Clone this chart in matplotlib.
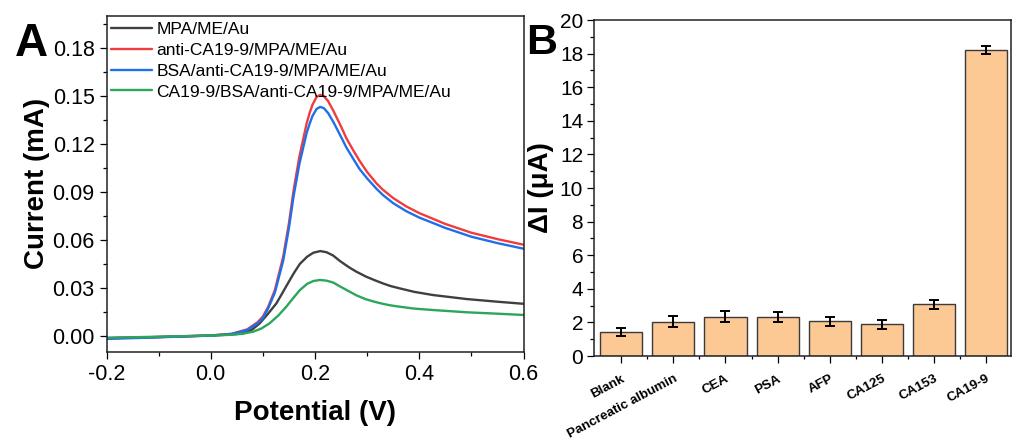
import matplotlib
matplotlib.use("Agg")
import matplotlib.pyplot as plt
from matplotlib.ticker import MultipleLocator, FixedLocator

plt.rcParams['font.family'] = ['Liberation Sans', 'DejaVu Sans']
plt.rcParams['mathtext.default'] = 'regular'

# ---- Panel A: DPV curves (potential in V, current in mA) ----
red_v = [-0.2, -0.1, 0.0, 0.04, 0.07, 0.09, 0.10, 0.11, 0.123, 0.139, 0.150,
         0.159, 0.170, 0.184, 0.190, 0.195, 0.203, 0.210, 0.217, 0.225, 0.235,
         0.25, 0.26, 0.273, 0.285, 0.30, 0.318, 0.33, 0.35, 0.375, 0.40, 0.45,
         0.50, 0.55, 0.60]
red_i = [-0.0015, -0.0008, 0.0002, 0.0012, 0.0040, 0.0085, 0.0120, 0.0180,
         0.0286, 0.0495, 0.0704, 0.0912, 0.1121, 0.1330, 0.1398, 0.1445,
         0.1495, 0.1508, 0.1500, 0.1470, 0.1410, 0.1310, 0.1238, 0.1163,
         0.1098, 0.1025, 0.0954, 0.0915, 0.0862, 0.0810, 0.0768, 0.0700,
         0.0645, 0.0605, 0.0570]

blue_v = red_v
blue_i = [-0.0020, -0.0010, 0.0001, 0.0011, 0.0036, 0.0078, 0.0110, 0.0170,
          0.0270, 0.0470, 0.0675, 0.0875, 0.1075, 0.1270, 0.1330, 0.1375,
          0.1420, 0.1433, 0.1425, 0.1395, 0.1340, 0.1245, 0.1180, 0.1110,
          0.1046, 0.0985, 0.0920, 0.0882, 0.0830, 0.0780, 0.0740, 0.0675,
          0.0620, 0.0580, 0.0545]

black_v = [-0.2, -0.1, 0.0, 0.04, 0.062, 0.08, 0.094, 0.11, 0.126, 0.137,
           0.148, 0.160, 0.171, 0.185, 0.197, 0.210, 0.222, 0.235, 0.247,
           0.257, 0.267, 0.280, 0.298, 0.315, 0.330, 0.345, 0.362, 0.390,
           0.426, 0.490, 0.550, 0.600]
black_i = [-0.0015, -0.0008, 0.0001, 0.0008, 0.0015, 0.0040, 0.0078, 0.0138,
           0.0203, 0.0265, 0.0328, 0.0395, 0.0450, 0.0495, 0.0520, 0.0530,
           0.0523, 0.0502, 0.0470, 0.0447, 0.0425, 0.0400, 0.0370, 0.0347,
           0.0328, 0.0311, 0.0297, 0.0275, 0.0255, 0.0230, 0.0213, 0.0200]

green_v = [-0.2, -0.1, 0.0, 0.04, 0.06, 0.081, 0.097, 0.113, 0.13, 0.145,
           0.158, 0.171, 0.185, 0.197, 0.210, 0.222, 0.235, 0.25, 0.267,
           0.280, 0.298, 0.315, 0.330, 0.345, 0.362, 0.390, 0.426, 0.490,
           0.550, 0.600]
green_i = [-0.0013, -0.0006, 0.0001, 0.0006, 0.0012, 0.0025, 0.0045, 0.0078,
           0.0128, 0.0182, 0.0235, 0.0286, 0.0325, 0.0343, 0.0349, 0.0345,
           0.0333, 0.0305, 0.0275, 0.0252, 0.0228, 0.0212, 0.0200, 0.0190,
           0.0182, 0.0170, 0.0161, 0.0147, 0.0138, 0.0130]

curve_labels = ["MPA/ME/Au", "anti-CA19-9/MPA/ME/Au",
                "BSA/anti-CA19-9/MPA/ME/Au", "CA19-9/BSA/anti-CA19-9/MPA/ME/Au"]
curve_colors = ["#404040", "#f03c3c", "#1f6fea", "#2ca65a"]

# ---- Panel B: selectivity bars (ΔI in µA) ----
categories = ["Blank", "Pancreatic albumin", "CEA", "PSA", "AFP",
              "CA125", "CA153", "CA19-9"]
delta_i = [1.41, 2.04, 2.33, 2.33, 2.06, 1.88, 3.07, 18.21]
delta_err = [0.24, 0.33, 0.33, 0.28, 0.27, 0.25, 0.25, 0.24]

fig = plt.figure(figsize=(10.16, 4.43), dpi=100)
W, H = 1016, 443

def frac_axes(l, t, r, b):
    return fig.add_axes([l / W, 1 - b / H, (r - l) / W, (b - t) / H])

axA = frac_axes(106.5, 15.7, 523.5, 351.7)
axB = frac_axes(594.3, 20.0, 1011.0, 356.0)

for ax in (axA, axB):
    for s in ax.spines.values():
        s.set_linewidth(1.1)
        s.set_color("#222222")

# Panel A
series = [(black_v, black_i), (red_v, red_i), (blue_v, blue_i), (green_v, green_i)]
for (v, i), lab, col in zip(series, curve_labels, curve_colors):
    axA.plot(v, i, color=col, lw=1.7, label=lab, solid_capstyle='round',
             solid_joinstyle='round')

axA.set_xlim(-0.2, 0.6)
axA.set_ylim(-0.010, 0.2004)
axA.xaxis.set_major_locator(FixedLocator([-0.2, 0.0, 0.2, 0.4, 0.6]))
axA.xaxis.set_minor_locator(MultipleLocator(0.1))
axA.yaxis.set_major_locator(FixedLocator([0.0, 0.03, 0.06, 0.09, 0.12, 0.15, 0.18]))
axA.yaxis.set_minor_locator(MultipleLocator(0.015))
axA.set_xticklabels(["-0.2", "0.0", "0.2", "0.4", "0.6"])
axA.set_yticklabels(["0.00", "0.03", "0.06", "0.09", "0.12", "0.15", "0.18"])
axA.tick_params(which='major', direction='out', length=5, width=0.9,
                labelsize=15.5, pad=3.5)
axA.tick_params(which='minor', direction='out', length=3, width=0.9)
axA.set_xlabel("Potential (V)", fontsize=20, fontweight='bold', labelpad=11)
axA.set_ylabel("Current (mA)", fontsize=20, fontweight='bold', labelpad=2)

axA.legend(loc='upper left', bbox_to_anchor=(0.011, 0.982), frameon=False,
           fontsize=12.5, handlelength=2.35, handletextpad=0.25,
           labelspacing=0.33, borderpad=0.0, borderaxespad=0.0)

# Panel B
xpos = list(range(len(categories)))
axB.bar(xpos, delta_i, width=0.81, color="#fcc893", edgecolor="#3a3a3a",
        linewidth=1.0, zorder=2)
axB.errorbar(xpos, delta_i, yerr=delta_err, fmt='none', ecolor='black',
             elinewidth=1.4, capsize=3.5, capthick=1.4, zorder=3)
axB.set_xlim(-0.516, 7.476)
axB.set_ylim(0, 20)
axB.yaxis.set_major_locator(MultipleLocator(2))
axB.yaxis.set_minor_locator(MultipleLocator(1))
axB.set_xticks(xpos)
axB.set_xticks([p + 0.5 for p in xpos[:-1]], minor=True)
axB.set_xticklabels(categories, rotation=28, ha='right', rotation_mode='anchor',
                    fontsize=9.6, fontweight='bold')
axB.tick_params(axis='y', which='major', direction='out', length=5, width=0.9,
                labelsize=15, pad=3)
axB.tick_params(axis='y', which='minor', direction='out', length=3, width=0.9)
axB.tick_params(axis='x', which='major', direction='out', length=5, width=0.9,
                pad=7)
axB.tick_params(axis='x', which='minor', direction='out', length=2.5, width=0.9)
axB.set_ylabel("ΔI (μA)", fontsize=20, fontweight='bold', labelpad=4)

# Panel letters
fig.text(15 / W, 1 - 56 / H, "A", fontsize=33, fontweight='bold', ha='left', va='baseline')
fig.text(526 / W, 1 - 54 / H, "B", fontsize=31, fontweight='bold', ha='left', va='baseline')

fig.savefig("out.png", dpi=100)
